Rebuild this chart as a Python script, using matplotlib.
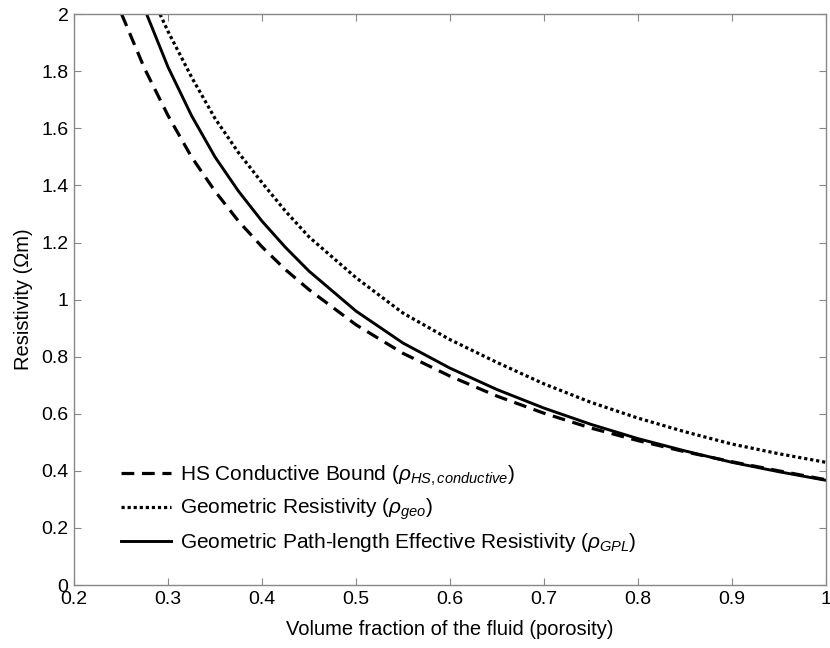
import matplotlib
matplotlib.use('Agg')
import matplotlib.pyplot as plt

plt.rcParams['font.family'] = ['Liberation Sans', 'DejaVu Sans']
plt.rcParams['mathtext.fontset'] = 'custom'
plt.rcParams['mathtext.rm'] = 'Liberation Sans'
plt.rcParams['mathtext.it'] = 'Liberation Sans:italic'

# HS conductive bound (dashed)
phi_hs = [0.2507, 0.275, 0.3, 0.325, 0.35, 0.375, 0.4, 0.425, 0.45, 0.5, 0.55, 0.6, 0.65, 0.7, 0.75, 0.8, 0.85, 0.9, 0.95, 1.0]
rho_hs = [2.0, 1.81, 1.645, 1.50, 1.38, 1.275, 1.185, 1.105, 1.035, 0.912, 0.812, 0.732, 0.662, 0.602, 0.55, 0.506, 0.467, 0.432, 0.40, 0.369]

# geometric resistivity (dotted)
phi_geo = [0.2915, 0.3, 0.325, 0.35, 0.375, 0.4, 0.425, 0.45, 0.5, 0.55, 0.6, 0.65, 0.7, 0.75, 0.8, 0.85, 0.9, 0.95, 1.0]
rho_geo = [2.0, 1.94, 1.78, 1.635, 1.515, 1.41, 1.31, 1.22, 1.077, 0.953, 0.86, 0.78, 0.705, 0.64, 0.585, 0.537, 0.494, 0.46, 0.43]

# geometric path-length effective resistivity (solid)
phi_gpl = [0.2773, 0.3, 0.325, 0.35, 0.375, 0.4, 0.425, 0.45, 0.5, 0.55, 0.6, 0.65, 0.7, 0.75, 0.8, 0.85, 0.9, 0.95, 1.0]
rho_gpl = [2.0, 1.815, 1.645, 1.50, 1.38, 1.275, 1.183, 1.10, 0.96, 0.848, 0.76, 0.685, 0.62, 0.563, 0.513, 0.47, 0.43, 0.397, 0.367]

fig = plt.figure(figsize=(8.3, 6.48), dpi=100)
ax = fig.add_axes([0.0892, 0.0972, 0.9058, 0.8808])

ax.plot(phi_hs, rho_hs, color='black', lw=2.3, dashes=(4, 2.4),
        label=r'HS Conductive Bound ($\rho_{HS,conductive}$)')
ax.plot(phi_geo, rho_geo, color='black', lw=2.3, dashes=(1, 0.9),
        label=r'Geometric Resistivity ($\rho_{geo}$)')
ax.plot(phi_gpl, rho_gpl, color='black', lw=2.1,
        label=r'Geometric Path-length Effective Resistivity ($\rho_{GPL}$)')

ax.set_xlim(0.2, 1.0)
ax.set_ylim(0, 2)
ax.set_xticks([0.2, 0.3, 0.4, 0.5, 0.6, 0.7, 0.8, 0.9, 1.0])
ax.set_xticklabels(['0.2', '0.3', '0.4', '0.5', '0.6', '0.7', '0.8', '0.9', '1'])
ax.set_yticks([0, 0.2, 0.4, 0.6, 0.8, 1.0, 1.2, 1.4, 1.6, 1.8, 2.0])
ax.set_yticklabels(['0', '0.2', '0.4', '0.6', '0.8', '1', '1.2', '1.4', '1.6', '1.8', '2'])
ax.tick_params(direction='in', top=True, right=True, length=5, width=0.8,
               color='#888888', labelsize=14, pad=4)
for s in ax.spines.values():
    s.set_color('#888888')
    s.set_linewidth(1.0)

ax.set_xlabel('Volume fraction of the fluid (porosity)', fontsize=14.5, labelpad=9)
ax.set_ylabel('Resistivity (\u03a9m)', fontsize=14.5, labelpad=6)

ax.legend(loc='lower left', bbox_to_anchor=(0.038, 0.021), frameon=False,
          fontsize=15, handlelength=2.4, handletextpad=0.4, labelspacing=0.43)

fig.savefig('out.png', dpi=100)
